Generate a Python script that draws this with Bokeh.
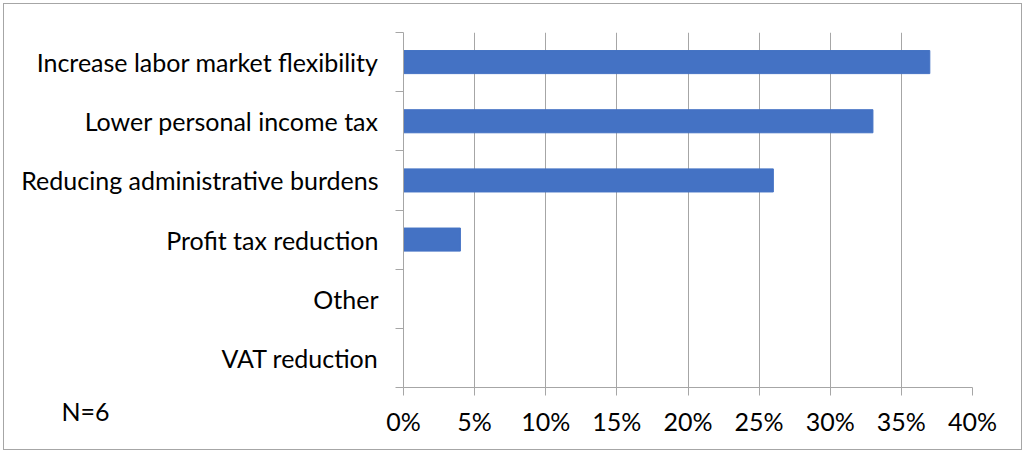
from bokeh.plotting import figure
from bokeh.models import Range1d, FixedTicker, NumeralTickFormatter, Title
from bokeh.embed import file_html
from bokeh.resources import INLINE

categories = ["Increase labor market flexibility", "Lower personal income tax",
              "Reducing administrative burdens", "Profit tax reduction", "Other", "VAT reduction"]
values = [0.37, 0.33, 0.26, 0.04, 0.0, 0.0]
x_ticks = [0.0, 0.05, 0.10, 0.15, 0.20, 0.25, 0.30, 0.35, 0.40]
note = "N=6"

FONT = "Lato"
FS = "25px"
GRAY = "#a6a6a6"

n = len(categories)
ypos = [n - i - 0.5 for i in range(n)]

p = figure(width=1017, height=445, output_backend="svg", toolbar_location=None,
           x_range=Range1d(0, 0.40), y_range=Range1d(0, n),
           min_border_left=399, min_border_right=49, min_border_top=28, min_border_bottom=62)
p.outline_line_color = None
p.styles = {"outline": "1px solid " + GRAY, "margin-left": "4px", "margin-top": "4px"}

p.hbar(y=ypos, right=values, left=0, height=0.39, color="#4472C4")

# x axis
xa = p.xaxis[0]
xa.ticker = FixedTicker(ticks=x_ticks)
xa.formatter = NumeralTickFormatter(format="0%")
xa.axis_line_color = GRAY
xa.major_tick_line_color = GRAY
xa.major_tick_out = 8
xa.major_tick_in = 0
xa.minor_tick_line_color = None
xa.major_label_text_font = FONT
xa.major_label_text_font_size = FS
xa.major_label_text_color = "#000000"
xa.major_label_standoff = 10

# y axis
ya = p.yaxis[0]
ya.ticker = FixedTicker(ticks=ypos, minor_ticks=list(range(n + 1)))
ya.major_label_overrides = {float(y): c for y, c in zip(ypos, categories)}
ya.axis_line_color = GRAY
ya.major_tick_line_color = None
ya.major_tick_out = 0
ya.major_tick_in = 0
ya.minor_tick_line_color = GRAY
ya.minor_tick_out = 8
ya.minor_tick_in = 0
ya.major_label_text_font = FONT
ya.major_label_text_font_size = FS
ya.major_label_text_color = "#000000"
ya.major_label_standoff = 17

p.xgrid.grid_line_color = GRAY
p.xgrid.ticker = FixedTicker(ticks=x_ticks)
p.ygrid.grid_line_color = None

p.add_layout(Title(text=note, align="left", offset=-342, standoff=-86, vertical_align="top",
                   text_font=FONT, text_font_size=FS, text_font_style="normal",
                   text_color="#000000"), "below")

open("out.html", "w").write(file_html(p, INLINE))
